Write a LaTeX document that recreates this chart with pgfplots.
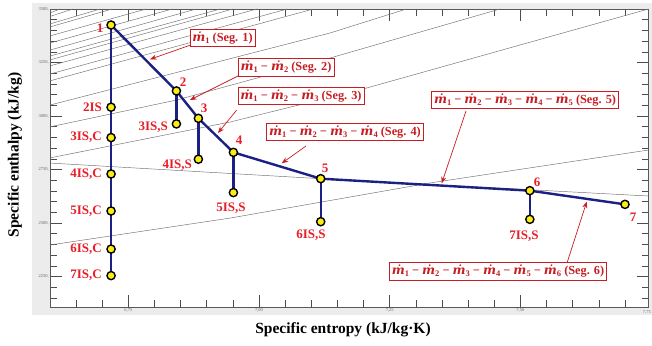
\documentclass[border=0pt]{standalone}
\usepackage{fontspec}
\setmainfont{Liberation Serif}
\newfontfamily\mfont{DejaVu Serif}
\usepackage{pgfplots}
\pgfplotsset{compat=1.18}
\usetikzlibrary{arrows.meta}
\definecolor{navy}{RGB}{28,32,130}
\definecolor{ptyellow}{RGB}{250,236,20}
\definecolor{lblred}{RGB}{232,30,40}
\definecolor{boxred}{RGB}{200,30,35}
\definecolor{bggray}{RGB}{236,236,236}
\definecolor{isogray}{RGB}{110,110,110}
\newcommand{\md}[1]{{\mfont\bfseries\itshape ṁ}\raisebox{-0.35ex}{\fontsize{8.5}{9}\selectfont #1}}
\newcommand{\mi}{\hspace{0.25em}−\hspace{0.25em}}
\tikzset{
  ptlbl/.style={text=lblred, font=\fontsize{13}{15}\selectfont\bfseries, inner sep=0pt},
  annbox/.style={draw=boxred, fill=white, line width=0.7pt, text=boxred, font=\fontsize{12.3}{14}\selectfont\bfseries, inner sep=2.5pt},
  annarr/.style={draw=boxred, line width=0.7pt, -{Stealth[length=6.5pt,width=5pt]}},
}
\begin{document}
\begin{tikzpicture}
\useasboundingbox (0pt,0pt) rectangle (652pt,345pt);
\fill[white] (0pt,0pt) rectangle (652pt,345pt);
\fill[bggray] (32pt,30pt) rectangle (652pt,342pt);
\begin{axis}[
  at={(49.9pt,37.5pt)}, anchor=south west,
  scale only axis, width=598.6pt, height=298.5pt,
  xmin=6.6, xmax=7.745, ymin=2105, ymax=3500,
  axis background/.style={fill=white},
  xtick={6.75,7,7.25,7.5},
  ytick={2250,2500,2750,3000,3250,3500},
  /pgf/number format/assume math mode=true,
  xticklabel={\pgfmathprintnumber[fixed,fixed zerofill,precision=2,use comma]{\tick}},
  yticklabel={\pgfmathprintnumber[fixed,precision=0,1000 sep={}]{\tick},},
  minor xtick={6.65,6.70,6.80,6.85,6.90,6.95,7.05,7.10,7.15,7.20,7.30,7.35,7.40,7.45,7.55,7.60,7.65,7.70},
  minor ytick={2150,2200,2300,2350,2400,2450,2550,2600,2650,2700,2800,2850,2900,2950,3050,3100,3150,3200,3300,3350,3400,3450},
  tick align=inside,
  major tick length=12pt, minor tick length=7pt,
  major tick style={gray!60!black, line width=0.5pt},
  minor tick style={gray!60!black, line width=0.5pt},
  axis line style={gray!70!black, line width=0.6pt},
  tick label style={font=\fontsize{4.5}{5}\selectfont, text=gray!80!black, inner sep=1pt},
]
\addplot[isogray, line width=0.45pt] coordinates {(6.6,3481)(6.619,3500)};
\addplot[isogray, line width=0.45pt] coordinates {(6.6,3465)(6.644,3500)};
\addplot[isogray, line width=0.45pt] coordinates {(6.6,3430)(6.696,3500)};
\addplot[isogray, line width=0.45pt] coordinates {(6.6,3416)(6.719,3500)};
\addplot[isogray, line width=0.45pt] coordinates {(6.6,3374)(6.784,3500)};
\addplot[isogray, line width=0.45pt] coordinates {(6.6,3341)(6.834,3500)};
\addplot[isogray, line width=0.45pt] coordinates {(6.6,3308)(6.880,3500)};
\addplot[isogray, line width=0.45pt] coordinates {(6.6,3280)(6.926,3500)};
\addplot[isogray, line width=0.45pt] coordinates {(6.6,3262)(6.950,3500)};
\addplot[isogray, line width=0.45pt] coordinates {(6.6,3234)(6.996,3500)};
\addplot[isogray, line width=0.45pt] coordinates {(6.6,3196)(7.054,3500)};
\addplot[isogray, line width=0.45pt] coordinates {(6.6,3164)(7.104,3500)};
\addplot[isogray, line width=0.45pt] coordinates {(6.6,3051)(7.136,3388)(7.282,3500)};
\addplot[isogray, line width=0.45pt] coordinates {(6.6,2949)(6.843,3075)(7.136,3271)(7.461,3500)};
\addplot[isogray, line width=0.45pt] coordinates {(6.6,2804)(6.945,2972)(7.193,3122)(7.745,3500)};
\addplot[isogray, line width=0.45pt] coordinates {(6.6,2780)(7.118,2707)(7.745,2626)};
\addplot[isogray, line width=0.45pt] coordinates {(6.6,2397)(6.945,2523)(7.327,2687)(7.745,2841)};
\addplot[navy, line width=2.4pt, line join=round] coordinates {(6.717,3425)(6.842,3117)(6.884,2989)(6.951,2830)(7.118,2707)(7.518,2651)(7.700,2587)};
\addplot[navy, line width=2.4pt] coordinates {(6.717,3425)(6.717,2254)};
\addplot[navy, line width=2.4pt] coordinates {(6.842,3117)(6.842,2963)};
\addplot[navy, line width=2.4pt] coordinates {(6.884,2989)(6.884,2798)};
\addplot[navy, line width=2.4pt] coordinates {(6.951,2830)(6.951,2642)};
\addplot[navy, line width=2.4pt] coordinates {(7.118,2707)(7.118,2506)};
\addplot[navy, line width=2.4pt] coordinates {(7.518,2651)(7.518,2517)};
\addplot[only marks, mark=*, mark size=4.1pt, mark options={fill=ptyellow, draw=black, line width=1.4pt}] coordinates {(6.717,3425)(6.842,3117)(6.884,2989)(6.951,2830)(7.118,2707)(7.518,2651)(7.700,2587)(6.717,3041)(6.717,2899)(6.717,2729)(6.717,2556)(6.717,2378)(6.717,2254)(6.842,2963)(6.884,2798)(6.951,2642)(7.118,2506)(7.518,2517)};
\end{axis}
\node[ptlbl] at (100pt,317pt) {1};
\node[ptlbl] at (183pt,263pt) {2};
\node[ptlbl] at (204pt,237pt) {3};
\node[ptlbl] at (239pt,205pt) {4};
\node[ptlbl] at (325pt,177pt) {5};
\node[ptlbl] at (537pt,163pt) {6};
\node[ptlbl] at (633pt,128pt) {7};
\node[ptlbl, anchor=east] at (102pt,237.7pt) {2IS};
\node[ptlbl, anchor=east] at (102pt,207.3pt) {3IS,C};
\node[ptlbl, anchor=east] at (102pt,171pt) {4IS,C};
\node[ptlbl, anchor=east] at (102pt,134pt) {5IS,C};
\node[ptlbl, anchor=east] at (102pt,96pt) {6IS,C};
\node[ptlbl, anchor=east] at (102pt,69.3pt) {7IS,C};
\node[ptlbl, anchor=east] at (168pt,218pt) {3IS,S};
\node[ptlbl, anchor=east] at (192pt,180pt) {4IS,S};
\node[ptlbl] at (231pt,137pt) {5IS,S};
\node[ptlbl] at (311pt,110pt) {6IS,S};
\node[ptlbl] at (524pt,109pt) {7IS,S};
\draw[annarr] (190.7pt,300pt) -- (150pt,285.7pt);
\draw[annarr] (240pt,270pt) -- (190pt,245pt);
\draw[annarr] (236.7pt,235pt) -- (218pt,212pt);
\draw[annarr] (306pt,199pt) -- (281.7pt,181.7pt);
\draw[annarr] (466pt,234pt) -- (441.7pt,161.7pt);
\draw[annarr] (567pt,82pt) -- (586.7pt,143.3pt);
\node[annbox] at (222.5pt,307pt) {\md{1} (Seg. 1)};
\node[annbox] at (286pt,277.5pt) {\md{1}\mi\md{2} (Seg. 2)};
\node[annbox] at (301pt,249pt) {\md{1}\mi\md{2}\mi\md{3} (Seg. 3)};
\node[annbox] at (345pt,213pt) {\md{1}\mi\md{2}\mi\md{3}\mi\md{4} (Seg. 4)};
\node[annbox] at (525pt,245pt) {\md{1}\mi\md{2}\mi\md{3}\mi\md{4}\mi\md{5} (Seg. 5)};
\node[annbox] at (498pt,73.5pt) {\md{1}\mi\md{2}\mi\md{3}\mi\md{4}\mi\md{5}\mi\md{6} (Seg. 6)};
\node[font=\fontsize{4.5}{5}\selectfont, text=gray!80!black, anchor=north east, inner sep=1pt] at (652pt,35.5pt) {7,75};
\node[font=\fontsize{15.5}{17}\selectfont\bfseries] at (343pt,15pt) {Specific entropy (kJ/kg·K)};
\node[font=\fontsize{15.5}{17}\selectfont\bfseries, rotate=90] at (15pt,190pt) {Specific enthalpy (kJ/kg)};
\end{tikzpicture}
\end{document}
